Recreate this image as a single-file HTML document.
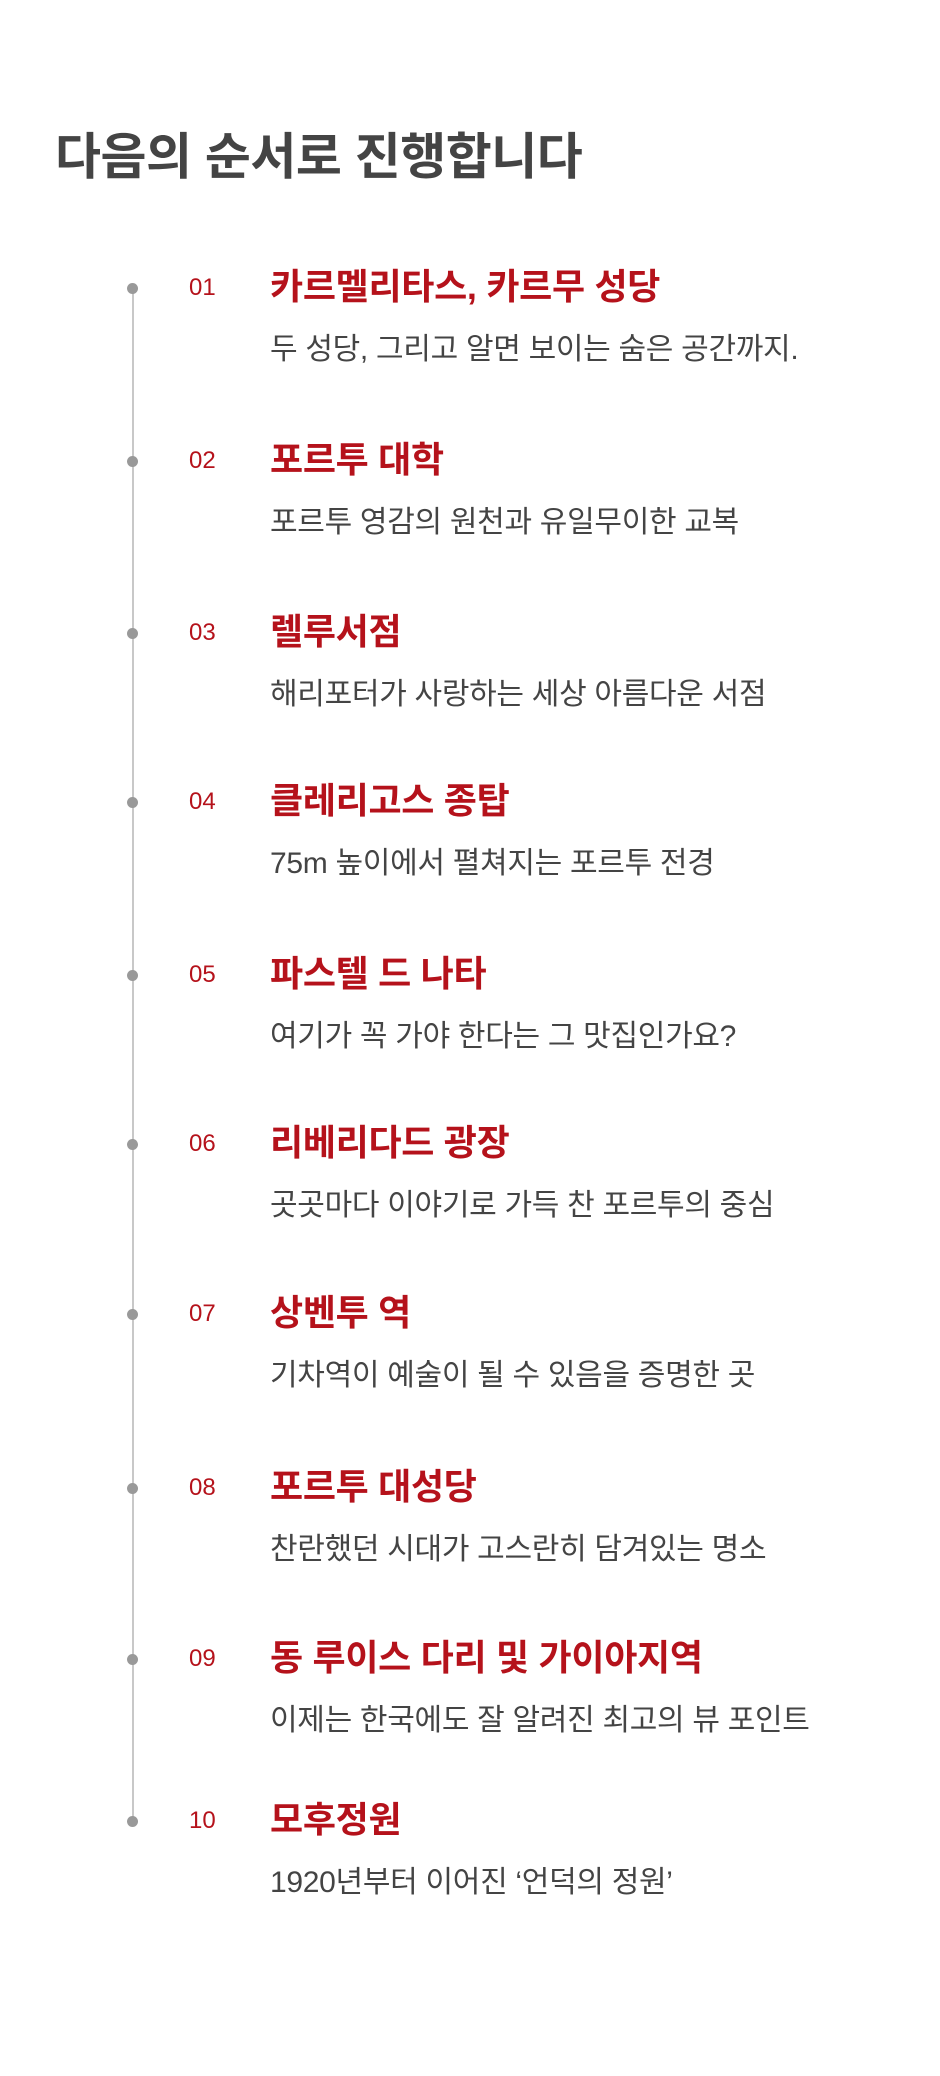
<!DOCTYPE html>
<html><head><meta charset="utf-8"><style>
body{margin:0;width:940px;height:2076px;background:#fff;position:relative;font-family:"Liberation Sans","Noto Sans CJK KR",sans-serif;overflow:hidden}
h1{position:absolute;left:55px;top:124px;margin:0;font-size:50px;line-height:66px;font-weight:700;color:#444;letter-spacing:-0.5px}
.line{position:absolute;left:132px;width:2px;background:#c8c8c8}
.dot{position:absolute;left:127px;width:11px;height:11px;border-radius:50%;background:#999}
.num{position:absolute;left:189px;font-size:24px;line-height:30px;color:#b5121b}
.tt{position:absolute;left:270px;font-size:36px;line-height:44px;font-weight:700;color:#b5121b;letter-spacing:-0.3px}
.st{position:absolute;left:270px;font-size:30px;line-height:38px;color:#444;letter-spacing:-0.3px}
</style></head><body>
<h1>다음의 순서로 진행합니다</h1>
<div id="tl"></div>
<script>
const nums=["01","02","03","04","05","06","07","08","09","10"];
const titles=["카르멜리타스, 카르무 성당","포르투 대학","렐루서점","클레리고스 종탑","파스텔 드 나타","리베리다드 광장","상벤투 역","포르투 대성당","동 루이스 다리 및 가이아지역","모후정원"];
const subs=["두 성당, 그리고 알면 보이는 숨은 공간까지.","포르투 영감의 원천과 유일무이한 교복","해리포터가 사랑하는 세상 아름다운 서점","75m 높이에서 펼쳐지는 포르투 전경","여기가 꼭 가야 한다는 그 맛집인가요?","곳곳마다 이야기로 가득 찬 포르투의 중심","기차역이 예술이 될 수 있음을 증명한 곳","찬란했던 시대가 고스란히 담겨있는 명소","이제는 한국에도 잘 알려진 최고의 뷰 포인트","1920년부터 이어진 ‘언덕의 정원’"];
const ys=[288,461,633,802,975,1144,1314,1488,1659,1821];
const tl=document.getElementById('tl');
const ln=document.createElement('div');
ln.className='line';


ln.style.top=(ys[0])+'px';ln.style.height=(ys[9]-ys[0])+'px';
tl.appendChild(ln);
ys.forEach((y,i)=>{
  const d=document.createElement('div');d.className='dot';d.style.top=(y-5)+'px';
  
  
  tl.appendChild(d);
  const n=document.createElement('div');n.className='num';n.style.top=(y-15)+'px';n.textContent=nums[i];
  
  
  tl.appendChild(n);
  const t=document.createElement('div');t.className='tt';t.style.top=(y-23)+'px';t.textContent=titles[i];
  
  
  tl.appendChild(t);
  const s=document.createElement('div');s.className='st';s.style.top=(y+43)+'px';s.textContent=subs[i];
  
  
  tl.appendChild(s);
});
</script>
</body></html>
